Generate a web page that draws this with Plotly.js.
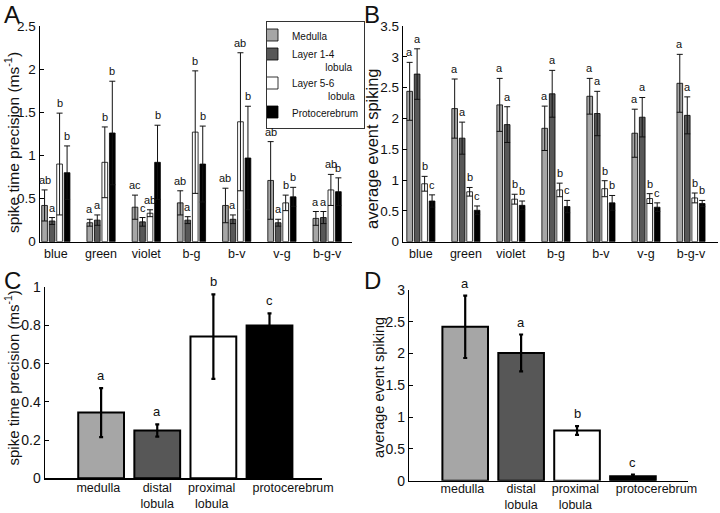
<!DOCTYPE html>
<html><head><meta charset="utf-8">
<script src="https://cdn.plot.ly/plotly-3.0.1.min.js"></script>
<style>html,body{margin:0;padding:0;background:#fff}#chart{width:720px;height:513px}</style>
</head><body><div id="chart"></div>
<script>
// ---------- data ----------
const stimuli = ['blue','green','violet','b-g','b-v','v-g','b-g-v'];
const seriesNames = ['Medulla','Layer 1-4<br>\u00a0\u00a0\u00a0\u00a0\u00a0\u00a0\u00a0\u00a0\u00a0\u00a0\u00a0\u00a0lobula','Layer 5-6<br>\u00a0\u00a0\u00a0\u00a0\u00a0\u00a0\u00a0\u00a0\u00a0\u00a0\u00a0\u00a0\u00a0lobula','Protocerebrum'];

// Panel A: spike time precision (ms^-1)
const precMedulla    = [0.42,0.22,0.40,0.45,0.42,0.71,0.27];
const precMedullaErr = [0.18,0.04,0.14,0.14,0.20,0.45,0.08];
const precL14        = [0.24,0.25,0.23,0.25,0.26,0.22,0.28];
const precL14Err     = [0.04,0.06,0.05,0.04,0.05,0.04,0.07];
const precL56        = [0.90,0.92,0.33,1.27,1.39,0.45,0.60];
const precL56Err     = [0.59,0.41,0.04,0.71,0.80,0.09,0.18];
const precProto      = [0.80,1.26,0.92,0.90,0.97,0.52,0.58];
const precProtoErr   = [0.31,0.60,0.43,0.44,0.60,0.11,0.16];
const precLetters = [
  ['ab','a','ac','ab','ab','ab','a'],
  ['a','a','c','a','a','a','a'],
  ['b','b','ab','b','ab','b','ab'],
  ['b','b','b','b','b','b','b']
];

// Panel B: average event spiking
const evMedulla    = [2.44,2.16,2.22,1.84,2.36,1.76,2.57];
const evMedullaErr = [0.47,0.48,0.43,0.36,0.29,0.39,0.47];
const evL14        = [2.72,1.68,1.90,2.40,2.08,2.02,2.05];
const evL14Err     = [0.41,0.26,0.29,0.38,0.36,0.32,0.30];
const evL56        = [0.94,0.81,0.69,0.84,0.86,0.70,0.71];
const evL56Err     = [0.12,0.07,0.08,0.11,0.13,0.08,0.08];
const evProto      = [0.66,0.51,0.59,0.57,0.63,0.56,0.62];
const evProtoErr   = [0.10,0.07,0.07,0.10,0.12,0.07,0.05];
const evLetters = [
  ['a','a','a','a','a','a','a'],
  ['a','a','a','a','a','a','a'],
  ['b','b','b','b','b','b','b'],
  ['c','c','b','c','b','c','b']
];

// Panels C and D: pooled by region
const regions = ['medulla','distal lobula','proximal lobula','protocerebrum'];
const regionLabels = ['medulla','distal<br>lobula','proximal<br>lobula','protocerebrum'];
const pooledPrec    = [0.344,0.250,0.742,0.800];
const pooledPrecErr = [0.128,0.032,0.221,0.064];
const pooledPrecLetters = ['a','a','b','c'];
const pooledEv      = [2.42,2.01,0.79,0.07];
const pooledEvErr   = [0.49,0.29,0.07,0.025];
const pooledEvLetters = ['a','a','b','c'];

// ---------- styles ----------
const FONT = 'Liberation Sans, Arial, sans-serif';
const fills = ['#a6a6a6','#575757','#ffffff','#000000'];
const BARGAP = 0.336, BARGROUPGAP = 0.24;
// tick label positions (category index) for panels C/D; last label set off to the right as in the figure
const regionTickPos = [-0.05, 0, -0.03, 0.42].map((d, i) => i + d);

const traces = [];
const annotations = [];

function groupedPanel(xa, ya, vals, errs, letters, showLegend){
  const slot = (1 - BARGAP) / vals.length;
  vals.forEach((v, i) => {
    traces.push({
      type:'bar', x: stimuli, y: v, name: seriesNames[i],
      xaxis: xa, yaxis: ya, showlegend: showLegend,
      marker:{color: fills[i], line:{color:'#000', width:0.8}},
      error_y:{type:'data', array: errs[i], visible:true, color:'#111', thickness:1, width:3},
      hoverinfo:'y'
    });
    stimuli.forEach((s, j) => {
      annotations.push({
        xref: xa, yref: ya, x: j + (i - (vals.length-1)/2) * slot,
        y: v[j] + errs[i][j], text: letters[i][j], showarrow:false,
        xanchor:'center', yanchor:'bottom', yshift:2,
        font:{family:FONT, size:11, color:'#111'}
      });
    });
  });
}

groupedPanel('x','y',
  [precMedulla, precL14, precL56, precProto],
  [precMedullaErr, precL14Err, precL56Err, precProtoErr], precLetters, true);
groupedPanel('x2','y2',
  [evMedulla, evL14, evL56, evProto],
  [evMedullaErr, evL14Err, evL56Err, evProtoErr], evLetters, false);

function pooledPanel(xa, ya, vals, errs, letters){
  traces.push({
    type:'bar', x: regions, y: vals, xaxis: xa, yaxis: ya, showlegend:false,
    width: 0.816, offset: -0.408,
    marker:{color: fills, line:{color:'#000', width:2}},
    error_y:{type:'data', array: errs, visible:true, color:'#000', thickness:2.2, width:2},
    hoverinfo:'y'
  });
  regions.forEach((r, j) => {
    annotations.push({
      xref: xa, yref: ya, x: j, y: vals[j] + errs[j], text: letters[j],
      showarrow:false, xanchor:'center', yanchor:'bottom', yshift:3,
      font:{family:FONT, size:13, color:'#111'}
    });
  });
}
pooledPanel('x3','y3', pooledPrec, pooledPrecErr, pooledPrecLetters);
pooledPanel('x4','y4', pooledEv, pooledEvErr, pooledEvLetters);

// panel letters and axis titles
function paperText(text, x, y, size, angle, xa, ya){
  annotations.push({xref:'paper', yref:'paper', x:x, y:y, text:text, showarrow:false,
    xanchor: xa || 'center', yanchor: ya || 'middle', textangle: angle || 0,
    font:{family:FONT, size:size, color:'#111'}});
}
paperText('A', 2/720, 1 + 1/513, 24, 0, 'left', 'top');
paperText('B', 362/720, 1 + 1/513, 24, 0, 'left', 'top');
paperText('C', 2/720, 1 - 265/513, 24, 0, 'left', 'top');
paperText('D', 362/720, 1 - 265/513, 24, 0, 'left', 'top');
paperText('spike time precision (ms<sup>-1</sup>)', 12/720, 1 - 143/513, 15.5, -90);
paperText('average event spiking', 372/720, 1 - 149/513, 16.5, -90);
paperText('spike time precision (ms<sup>-1</sup>)', 11.5/720, 1 - 378/513, 15, -90);
paperText('average event spiking', 379/720, 1 - 388/513, 14.5, -90);

function xaxisCfg(domain, range, anchor, size){
  return {domain: domain, range: range, anchor: anchor, showline:true, linecolor:'#000',
    linewidth:1.5, showgrid:false, zeroline:false, ticks:'', fixedrange:true,
    tickangle:0, automargin:false,
    tickfont:{family:FONT, size:size, color:'#111'}};
}
function yaxisCfg(domain, range, dtick, anchor, size){
  return {domain: domain, range: range, dtick: dtick, anchor: anchor, showline:true,
    linecolor:'#000', linewidth:1.5, showgrid:false, zeroline:false, ticks:'inside',
    ticklen:4, tickcolor:'#000', fixedrange:true, automargin:false,
    tickfont:{family:FONT, size:size, color:'#111'}};
}
const xa3 = Object.assign(xaxisCfg([45/720, 321.7/720], [-1.0, 3.93], 'y3', 12.5),
  {tickmode:'array', tickvals: regionTickPos, ticktext: regionLabels, ticklabelstandoff:-3});
const xa4 = Object.assign(xaxisCfg([409.3/720, 688.3/720], [-1.0, 3.99], 'y4', 12.5),
  {tickmode:'array', tickvals: regionTickPos, ticktext: regionLabels, ticklabelstandoff:-4});

const layout = {
  width:720, height:513, margin:{l:0, r:0, t:0, b:0},
  paper_bgcolor:'#fff', plot_bgcolor:'#fff',
  barmode:'group', bargap: BARGAP, bargroupgap: BARGROUPGAP,
  font:{family:FONT, color:'#111'},
  xaxis:  xaxisCfg([40/720, 352/720], [-0.35, 6.55], 'y', 12.5),
  yaxis:  yaxisCfg([1-241.7/513, 1-26/513], [0, 2.5], 0.5, 'x', 13.5),
  xaxis2: xaxisCfg([403.3/720, 718/720], [-0.39, 6.6], 'y2', 12.5),
  yaxis2: yaxisCfg([1-241.7/513, 1-26/513], [0, 3.5], 0.5, 'x2', 13.5),
  xaxis3: xa3,
  yaxis3: yaxisCfg([1-478.3/513, 1-287.3/513], [0, 1], 0.2, 'x3', 14),
  xaxis4: xa4,
  yaxis4: yaxisCfg([1-480.7/513, 1-290/513], [0, 3], 0.5, 'x4', 14),
  showlegend:true,
  legend:{x:266/720, y:1-21/513, xanchor:'left', yanchor:'top', bgcolor:'#fff',
    bordercolor:'#333', borderwidth:1, font:{family:FONT, size:10, color:'#111'},
    itemwidth:30, indentation:-15, valign:'top', tracegroupgap:0, traceorder:'normal'},
  annotations: annotations
};

Plotly.newPlot('chart', traces, layout, {displayModeBar:false, staticPlot:true});
</script></body></html>
